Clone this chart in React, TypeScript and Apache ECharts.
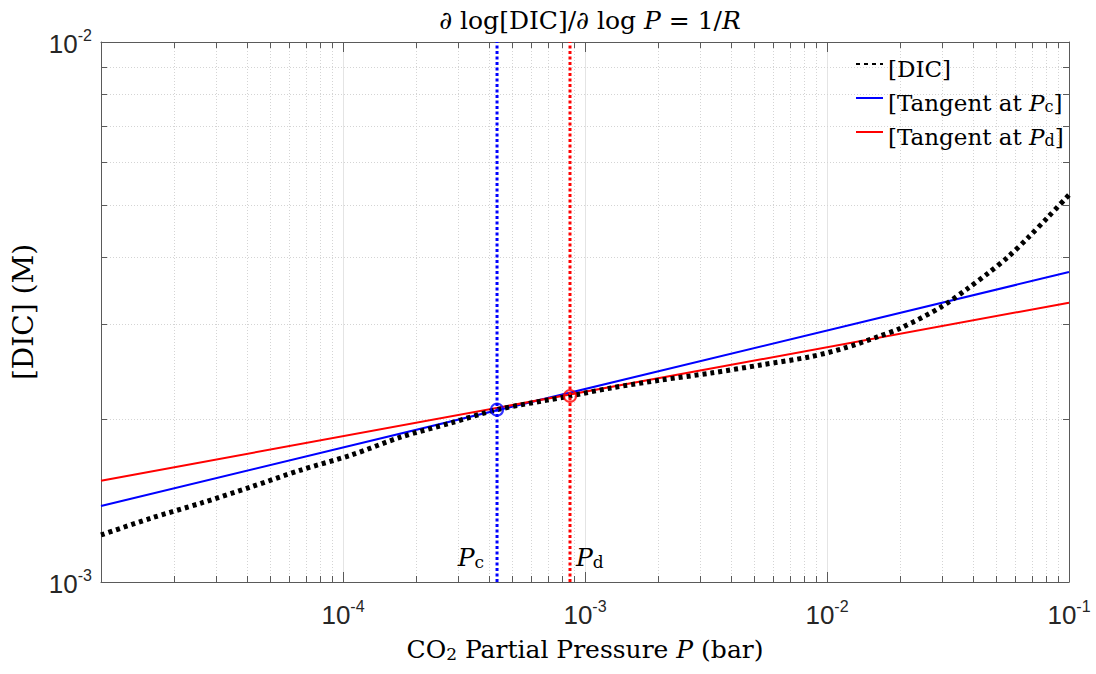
import React, { useEffect, useRef } from 'react';
import * as echarts from 'echarts';

// CO2 partial pressure (bar) and DIC (M)
const pressure = [1e-5, 1.61e-5, 2.59e-5, 4.17e-5, 6.7e-5, 1.08e-4, 1.74e-4, 2.79e-4, 4.33e-4, 8.67e-4, 1.28e-3, 2.06e-3, 3.32e-3, 5.33e-3, 8.59e-3, 1.175e-2, 1.625e-2, 2.02e-2, 2.96e-2, 3.83e-2, 4.63e-2, 5.6e-2, 6.77e-2, 8.19e-2, 0.1];
const dic = [1.222e-3, 1.313e-3, 1.4e-3, 1.5e-3, 1.612e-3, 1.718e-3, 1.856e-3, 1.97e-3, 2.085e-3, 2.21e-3, 2.287e-3, 2.366e-3, 2.438e-3, 2.523e-3, 2.615e-3, 2.71e-3, 2.846e-3, 2.954e-3, 3.23e-3, 3.5e-3, 3.73e-3, 4.0e-3, 4.34e-3, 4.74e-3, 5.21e-3];

// tangent lines (endpoints)
const tangentX = [1e-5, 0.1];
const tangentCY = [1.383e-3, 3.75e-3];
const tangentDY = [1.54e-3, 3.29e-3];

// tangent points
const Pc = 4.33e-4;
const Pd = 8.67e-4;
const dicAtPc = 2.085e-3;
const dicAtPd = 2.21e-3;

// axis ranges
const X_MIN = 1e-5;
const X_MAX = 0.1;
const Y_MIN = 1e-3;
const Y_MAX = 1e-2;

const xDecades = [-5, -4, -3, -2];
const yDecades = [-3];
const mantissas = [2, 3, 4, 5, 6, 7, 8, 9];

const xMinor: number[] = [];
xDecades.forEach((e) => mantissas.forEach((m) => xMinor.push(m * Math.pow(10, e))));
const yMinor: number[] = [];
yDecades.forEach((e) => mantissas.forEach((m) => yMinor.push(m * Math.pow(10, e))));

const SANS = 'Liberation Sans, Arial, sans-serif';
const SERIF = 'DejaVu Serif, serif';
const AX = '#5a5a5a';
const TXT = '#262626';

const tickRich = {
  b: { fontSize: 26, fontFamily: SANS, color: TXT, lineHeight: 30, verticalAlign: 'bottom' },
  s: { fontSize: 16, fontFamily: SANS, color: TXT, lineHeight: 16, verticalAlign: 'top' },
};

const makeSerifRich = (size: number) => ({
  n: { fontSize: size, fontFamily: SERIF, fontWeight: 'normal', color: '#000', lineHeight: 32, verticalAlign: 'bottom' },
  i: { fontSize: size, fontFamily: SERIF, fontWeight: 'normal', fontStyle: 'italic', color: '#000', lineHeight: 32, verticalAlign: 'bottom' },
  sub: { fontSize: Math.round(size * 0.68), fontFamily: SERIF, fontWeight: 'normal', color: '#000', lineHeight: 18, verticalAlign: 'bottom' },
});
const serifRich = makeSerifRich(25);
const legendRich = makeSerifRich(23);
const yNameRich = makeSerifRich(28);

const tickFmt = (minExp: number) => (v: number) => {
  const e = Math.round(Math.log10(v));
  if (e < minExp) return '';
  return `{b|10}{s|${e}}`;
};

export default function App() {
  const ref = useRef<HTMLDivElement>(null);
  useEffect(() => {
    if (!ref.current) return;
    const chart = echarts.init(ref.current, undefined, { renderer: 'svg' });
    const crisp = (v: number) => Math.round(v) + 0.5;

    const baseX = {
      type: 'log',
      logBase: 10,
      min: X_MIN,
      max: X_MAX,
      axisLine: { show: true, onZero: false, lineStyle: { color: AX, width: 1 } },
      axisTick: { show: true, inside: true, length: 10, lineStyle: { color: AX } },
    };
    const baseY = {
      type: 'log',
      logBase: 10,
      min: Y_MIN,
      max: Y_MAX,
      axisLine: { show: true, onZero: false, lineStyle: { color: AX, width: 1 } },
      axisTick: { show: true, inside: true, length: 10, lineStyle: { color: AX } },
    };

    chart.setOption({
      animation: false,
      backgroundColor: '#fff',
      title: {
        text: '{n|∂ log[DIC]/∂ log }{i|P}{n| = 1/}{i|R}',
        left: 585,
        textAlign: 'center',
        top: -4,
        textStyle: { fontWeight: 'normal', rich: serifRich },
      },
      grid: { left: 101, right: 27, top: 42, bottom: 92 },
      legend: {
        data: ['[DIC]', 'Tangent at Pc', 'Tangent at Pd'],
        orient: 'vertical',
        left: 855,
        top: 57,
        padding: 0,
        itemWidth: 27,
        itemHeight: 14,
        itemGap: 11,
        itemStyle: { opacity: 0 },
        formatter: (name: string) => {
          if (name === '[DIC]') return '{n|[DIC]}';
          if (name === 'Tangent at Pc') return '{n|[Tangent at }{i|P}{sub|c}{n|]}';
          return '{n|[Tangent at }{i|P}{sub|d}{n|]}';
        },
        textStyle: { rich: legendRich },
      },
      xAxis: [
        {
          ...baseX,
          position: 'bottom',
          axisLabel: { formatter: tickFmt(-4), rich: tickRich, margin: 16 },
          splitLine: { show: true, lineStyle: { color: '#e4e4e4', width: 1 } },
          name: '{n|CO}{sub|2}{n| Partial Pressure }{i|P}{n| (bar)}',
          nameLocation: 'middle',
          nameGap: 48,
          nameTextStyle: { rich: serifRich },
        },
        {
          ...baseX,
          position: 'top',
          axisLabel: { show: false },
          splitLine: { show: false },
        },
      ],
      yAxis: [
        {
          ...baseY,
          position: 'left',
          axisLabel: { formatter: tickFmt(-3), rich: tickRich, margin: 9 },
          splitLine: { show: false },
          name: '{n|[DIC] (M)}',
          nameLocation: 'middle',
          nameGap: 62,
          nameRotate: 90,
          nameTextStyle: { rich: yNameRich },
        },
        {
          ...baseY,
          position: 'right',
          axisLabel: { show: false },
          splitLine: { show: false },
        },
      ],
      series: [
        {
          type: 'custom',
          name: 'xMinorGrid',
          xAxisIndex: 0,
          yAxisIndex: 0,
          z: 1,
          silent: true,
          clip: false,
          data: xMinor.map((v) => [v, Y_MIN]),
          renderItem: (_p: any, api: any) => {
            const v = api.value(0);
            const b = api.coord([v, Y_MIN]);
            const t = api.coord([v, Y_MAX]);
            const x = crisp(b[0]);
            return {
              type: 'group',
              children: [
                { type: 'line', shape: { x1: x, y1: t[1], x2: x, y2: b[1] }, style: { stroke: '#d4d4d4', lineWidth: 1, lineDash: [1, 2] } },
                { type: 'line', shape: { x1: x, y1: b[1], x2: x, y2: b[1] - 6 }, style: { stroke: AX, lineWidth: 1 } },
                { type: 'line', shape: { x1: x, y1: t[1], x2: x, y2: t[1] + 6 }, style: { stroke: AX, lineWidth: 1 } },
              ],
            };
          },
        },
        {
          type: 'custom',
          name: 'yMinorGrid',
          xAxisIndex: 0,
          yAxisIndex: 0,
          z: 1,
          silent: true,
          clip: false,
          data: yMinor.map((v) => [X_MIN, v]),
          renderItem: (_p: any, api: any) => {
            const v = api.value(1);
            const l = api.coord([X_MIN, v]);
            const r = api.coord([X_MAX, v]);
            const y = crisp(l[1]);
            return {
              type: 'group',
              children: [
                { type: 'line', shape: { x1: l[0], y1: y, x2: r[0], y2: y }, style: { stroke: '#d4d4d4', lineWidth: 1, lineDash: [1, 2] } },
                { type: 'line', shape: { x1: l[0], y1: y, x2: l[0] + 6, y2: y }, style: { stroke: AX, lineWidth: 1 } },
                { type: 'line', shape: { x1: r[0], y1: y, x2: r[0] - 6, y2: y }, style: { stroke: AX, lineWidth: 1 } },
              ],
            };
          },
        },
        {
          type: 'line',
          name: 'Tangent at Pc',
          data: tangentX.map((x, i) => [x, tangentCY[i]]),
          symbol: 'none',
          lineStyle: { color: '#0000ff', width: 2 },
          itemStyle: { color: '#0000ff' },
          z: 3,
        },
        {
          type: 'line',
          name: 'Tangent at Pd',
          data: tangentX.map((x, i) => [x, tangentDY[i]]),
          symbol: 'none',
          lineStyle: { color: '#ff0000', width: 2 },
          itemStyle: { color: '#ff0000' },
          z: 3,
        },
        {
          type: 'line',
          name: '[DIC]',
          data: pressure.map((x, i) => [x, dic[i]]),
          symbol: 'none',
          smooth: 0.3,
          lineStyle: { color: '#000', width: 5, type: [4, 4], cap: 'butt' },
          itemStyle: { color: '#000' },
          z: 4,
        },
        {
          type: 'line',
          name: 'PcLine',
          data: [[Pc, Y_MIN], [Pc, Y_MAX]],
          symbol: 'none',
          lineStyle: { color: '#0000ff', width: 3, type: [3, 2.5], cap: 'butt' },
          z: 5,
        },
        {
          type: 'line',
          name: 'PdLine',
          data: [[Pd, Y_MIN], [Pd, Y_MAX]],
          symbol: 'none',
          lineStyle: { color: '#ff0000', width: 3, type: [3, 2.5], cap: 'butt' },
          z: 5,
        },
        {
          type: 'scatter',
          name: 'PcPoint',
          data: [[Pc, dicAtPc]],
          symbol: 'circle',
          symbolSize: 12,
          itemStyle: { color: 'rgba(0,0,0,0)', borderColor: '#0000ff', borderWidth: 2 },
          z: 6,
        },
        {
          type: 'scatter',
          name: 'PdPoint',
          data: [[Pd, dicAtPd]],
          symbol: 'circle',
          symbolSize: 12,
          itemStyle: { color: 'rgba(0,0,0,0)', borderColor: '#ff0000', borderWidth: 2 },
          z: 6,
        },
        {
          type: 'scatter',
          name: 'PLabels',
          clip: false,
          symbolSize: 0,
          itemStyle: { color: '#000', opacity: 1 },
          label: { color: '#000', textBorderWidth: 0 },
          data: [
            { value: [Pc, Y_MIN], label: { show: true, color: '#000', position: 'left', distance: 13, offset: [0, -28], formatter: '{i|P}{sub|c}', rich: serifRich } },
            { value: [Pd, Y_MIN], label: { show: true, color: '#000', position: 'right', distance: 6, offset: [0, -28], formatter: '{i|P}{sub|d}', rich: serifRich } },
          ],
          z: 6,
        },
      ],
    });
    return () => chart.dispose();
  }, []);
  return <div ref={ref} style={{ position: 'fixed', left: 0, top: 0, width: 1096, height: 674 }} />;
}
